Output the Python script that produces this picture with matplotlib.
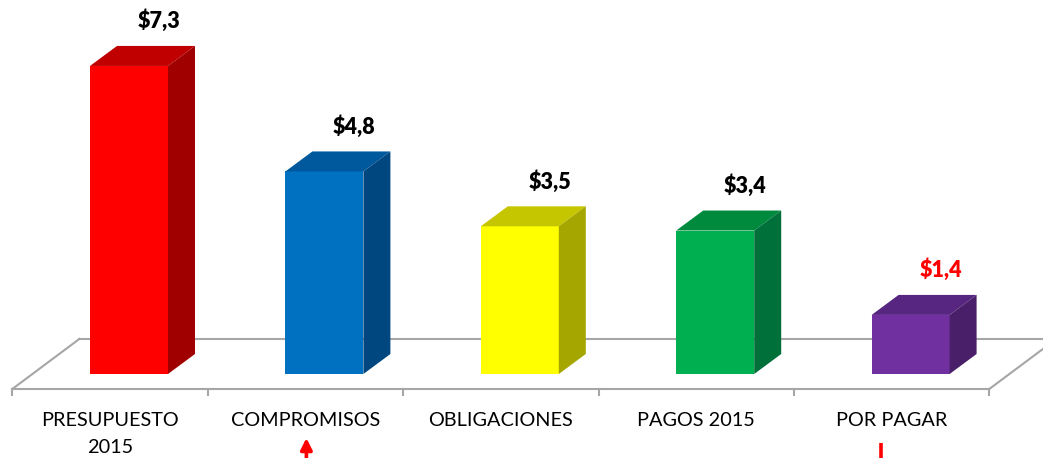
import matplotlib
matplotlib.use('Agg')
import matplotlib.pyplot as plt
from matplotlib.patches import Polygon

categories = ['PRESUPUESTO\n2015', 'COMPROMISOS', 'OBLIGACIONES', 'PAGOS 2015', 'POR PAGAR']
values = [7.3, 4.8, 3.5, 3.4, 1.4]
value_labels = ['$7,3', '$4,8', '$3,5', '$3,4', '$1,4']
label_colors = ['#000000', '#000000', '#000000', '#000000', '#FF0000']
front_colors = ['#FF0000', '#0070C0', '#FFFF00', '#00B050', '#7030A0']
top_colors = ['#C00000', '#00599C', '#C6C600', '#008A3E', '#572680']
side_colors = ['#A00000', '#004780', '#A6A600', '#00703A', '#4A1F69']

W, H = 1043, 458
fig = plt.figure(figsize=(W / 100, H / 100), dpi=100)
ax = fig.add_axes([0, 0, 1, 1])
PX_X = 195.4   # pixels per category
PX_Y = 42.2    # pixels per value unit
X0, Y0 = 110, 374  # pixel position of category 0 / value 0 (from top)
ax.set_xlim(-X0 / PX_X, (W - X0) / PX_X)
ax.set_ylim(-(H - Y0) / PX_Y, Y0 / PX_Y)
ax.axis('off')

DX, DY = 27 / PX_X, 20 / PX_Y          # bar depth
FDX, FDY = 67 / PX_X, 50 / PX_Y        # floor depth
floor_y = -15 / PX_Y
n = len(values)
grey = '#A6A6A6'

# floor
fx0, fx1 = -0.5, n - 0.5
ax.plot([fx0, fx1], [floor_y, floor_y], color=grey, lw=1.5, zorder=1)
ax.plot([fx0 + FDX, fx1 + FDX], [floor_y + FDY, floor_y + FDY], color=grey, lw=1.5, zorder=1)
ax.plot([fx0, fx0 + FDX], [floor_y, floor_y + FDY], color=grey, lw=1.5, zorder=1)
ax.plot([fx1, fx1 + FDX], [floor_y, floor_y + FDY], color=grey, lw=1.5, zorder=1)
for k in range(n + 1):
    xt = k - 0.5
    ax.plot([xt, xt], [floor_y, floor_y - 6 / PX_Y], color=grey, lw=1.5, zorder=1)

# bars
BL = -20 / PX_X
BW = 78 / PX_X
xs = list(range(n))
ax.bar([x + BL for x in xs], values, width=BW, align='edge', color=front_colors,
       linewidth=0, zorder=3)
for i, v in enumerate(values):
    xl, xr = i + BL, i + BL + BW
    ax.add_patch(Polygon([(xl, v), (xr, v), (xr + DX, v + DY), (xl + DX, v + DY)],
                         closed=True, facecolor=top_colors[i], edgecolor='none', zorder=3))
    ax.add_patch(Polygon([(xr, 0), (xr + DX, DY), (xr + DX, v + DY), (xr, v)],
                         closed=True, facecolor=side_colors[i], edgecolor='none', zorder=3))
    ax.text(i + BL + BW / 2 + DX + 3 / PX_X, v + DY + 25 / PX_Y, value_labels[i],
            ha='center', va='center', fontsize=15.5, fontweight='heavy',
            color=label_colors[i], family='Lato')

# category labels
for i, cat in enumerate(categories):
    for j, line in enumerate(cat.split('\n')):
        ax.text(i, -(426 - Y0 + 27 * j) / PX_Y, line, ha='center', va='baseline',
                fontsize=14.3, color='#000000', family='Lato')

# red markers below labels
ax.annotate('', xy=(1 + 1 / PX_X, -(438 - Y0) / PX_Y), xytext=(1 + 1 / PX_X, -(470 - Y0) / PX_Y),
            arrowprops=dict(arrowstyle='-|>', color='#FF0000', lw=2.6, mutation_scale=17,
                            shrinkA=0, shrinkB=0), annotation_clip=False)
ax.plot([4 - 10.5 / PX_X, 4 - 10.5 / PX_X], [-(443 - Y0) / PX_Y, -(470 - Y0) / PX_Y],
        color='#FF0000', lw=2.6, solid_capstyle='butt', clip_on=False)

fig.savefig('out.png', dpi=100)
